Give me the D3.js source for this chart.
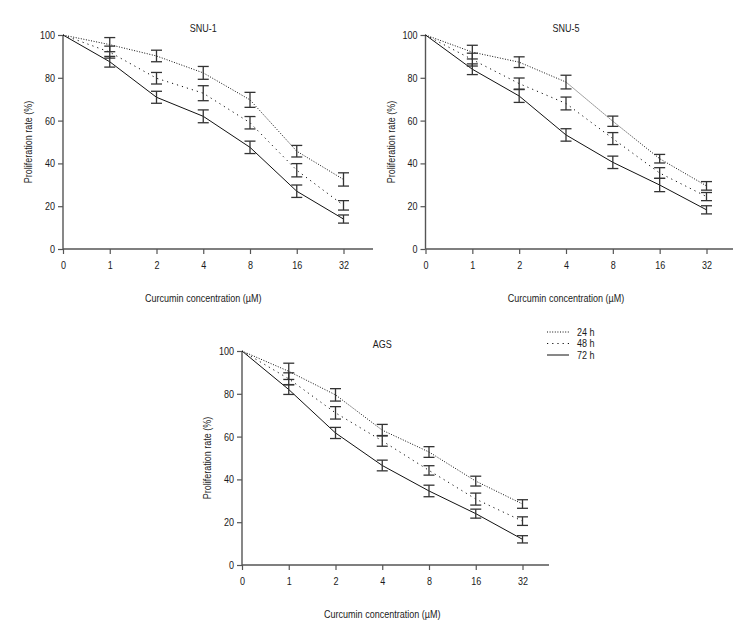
<!DOCTYPE html>
<html>
<head>
<meta charset="utf-8">
<script src="https://cdn.jsdelivr.net/npm/d3@7"></script>
<style>
  html, body { margin: 0; padding: 0; background: #fff; }
  text { font-family: "Liberation Sans", Arial, sans-serif; fill: #1a1a1a; }
</style>
</head>
<body>
<svg id="chart" width="756" height="636"></svg>
<script>
// ---------- data ----------
const concentrations = ["0", "1", "2", "4", "8", "16", "32"];
const seriesNames = ["24 h", "48 h", "72 h"];
const yTicks = [0, 20, 40, 60, 80, 100];

const snu1_24 = [100, 95.5, 90.2, 82.3, 69.7, 45.7, 32.5];
const snu1_24_err = [0, 3.3, 2.7, 3.0, 3.5, 2.7, 3.1];
const snu1_48 = [100, 92.0, 79.8, 72.8, 59.0, 36.8, 20.4];
const snu1_48_err = [0, 2.8, 2.7, 3.5, 2.9, 3.1, 2.2];
const snu1_72 = [100, 87.5, 70.9, 62.0, 47.5, 27.0, 14.0];
const snu1_72_err = [0, 2.5, 2.8, 3.0, 2.9, 2.9, 1.9];

const snu5_24 = [100, 92.0, 87.3, 78.0, 59.7, 42.2, 29.5];
const snu5_24_err = [0, 3.2, 2.5, 3.2, 2.4, 2.0, 2.0];
const snu5_48 = [100, 88.5, 77.3, 68.0, 51.6, 35.5, 24.5];
const snu5_48_err = [0, 3.0, 2.6, 3.0, 2.8, 2.5, 1.9];
const snu5_72 = [100, 84.0, 71.5, 53.3, 40.5, 29.9, 18.3];
const snu5_72_err = [0, 2.5, 3.0, 2.9, 2.9, 3.1, 1.9];

const ags_24 = [100, 90.5, 79.5, 63.0, 52.8, 39.2, 28.5];
const ags_24_err = [0, 3.8, 2.9, 2.7, 2.5, 2.3, 2.0];
const ags_48 = [100, 87.0, 71.1, 58.0, 44.2, 30.8, 20.5];
const ags_48_err = [0, 2.8, 2.9, 2.5, 2.2, 2.8, 2.0];
const ags_72 = [100, 82.0, 61.7, 46.5, 34.6, 24.0, 12.0];
const ags_72_err = [0, 2.3, 2.6, 2.5, 2.7, 2.1, 1.7];

// ---------- styles ----------
const dashes = ["1,1.6", "1.2,4", null];
const FS = 11;          // font size
const SX = 0.82;        // horizontal condensing (narrow face)
const svg = d3.select("#chart");

function label(parent, x, y, str, anchor, rot) {
  return parent.append("text")
    .attr("transform", `translate(${x},${y})${rot ? " rotate(" + rot + ")" : ""} scale(${SX},1)`)
    .attr("text-anchor", anchor || "middle")
    .attr("font-size", FS)
    .text(str);
}

const panels = [
  { title: "SNU-1", x0: 63, x6: 343.5, xEnd: 373, yTop: 35, yBot: 249,
    series: [[snu1_24, snu1_24_err], [snu1_48, snu1_48_err], [snu1_72, snu1_72_err]] },
  { title: "SNU-5", x0: 425.5, x6: 706.5, xEnd: 733, yTop: 35, yBot: 249,
    series: [[snu5_24, snu5_24_err], [snu5_48, snu5_48_err], [snu5_72, snu5_72_err]] },
  { title: "AGS", x0: 242, x6: 522.5, xEnd: 549, yTop: 351, yBot: 565,
    series: [[ags_24, ags_24_err], [ags_48, ags_48_err], [ags_72, ags_72_err]] }
];

panels.forEach(p => {
  const xIdx = d3.scaleLinear().domain([0, 6]).range([p.x0, p.x6]);
  const y = d3.scaleLinear().domain([0, 100]).range([p.yBot, p.yTop]);
  const g = svg.append("g");

  // axes
  const yAxis = d3.axisLeft(y).tickValues(yTicks).tickSize(5).tickPadding(3).tickSizeOuter(0);
  const ya = g.append("g").attr("transform", `translate(${p.x0},0)`).call(yAxis);
  const xScaleAxis = d3.scalePoint().domain(concentrations).range([p.x0, p.x6]);
  const xAxis = d3.axisBottom(xScaleAxis).tickSize(5).tickPadding(7.5).tickSizeOuter(0);
  const xa = g.append("g").attr("transform", `translate(0,${p.yBot})`).call(xAxis);
  xa.select(".domain").attr("d", `M${p.x0},0H${p.xEnd}`);
  ya.select(".domain").attr("d", `M0,${p.yBot}V${p.yTop}`);
  [ya, xa].forEach(a => {
    a.selectAll(".domain").attr("stroke", "#555").attr("stroke-width", 1.4);
    a.selectAll(".tick line").attr("stroke", "#555").attr("stroke-width", 1.2);
    a.selectAll(".tick text").attr("font-size", FS).attr("font-family", null).style("fill", "#1a1a1a");
  });
  ya.selectAll(".tick text").each(function () {
    const t = d3.select(this);
    const xx = +t.attr("x");
    t.attr("x", 0).attr("transform", `translate(${xx},0) scale(${SX},1)`);
  });
  xa.selectAll(".tick text").each(function () {
    const t = d3.select(this);
    const yy = +t.attr("y");
    t.attr("y", 0).attr("transform", `translate(0,${yy}) scale(${SX},1)`);
  });

  // titles
  label(g, xIdx(3), p.yTop - 3, p.title);
  label(g, (p.x0 + p.x6) / 2, p.yBot + 53, "Curcumin concentration (\u00b5M)");
  label(g, p.x0 - 31, (p.yTop + p.yBot) / 2, "Proliferation rate (%)", "middle", -90);

  // lines
  const line = d3.line().x((d, i) => xIdx(i)).y(d => y(d));
  p.series.forEach(([vals], si) => {
    g.append("path").datum(vals).attr("d", line)
      .attr("fill", "none").attr("stroke", "#111").attr("stroke-width", 1)
      .attr("stroke-dasharray", dashes[si]);
  });
  // error bars
  const cap = 5.5;
  p.series.forEach(([vals, errs]) => {
    vals.forEach((v, i) => {
      const e = errs[i];
      if (!e) return;
      const cx = xIdx(i);
      const eb = g.append("g").attr("stroke", "#333").attr("stroke-width", 1.3).attr("fill", "none");
      eb.append("line").attr("x1", cx).attr("x2", cx).attr("y1", y(v + e)).attr("y2", y(v - e));
      eb.append("line").attr("x1", cx - cap).attr("x2", cx + cap).attr("y1", y(v + e)).attr("y2", y(v + e));
      eb.append("line").attr("x1", cx - cap).attr("x2", cx + cap).attr("y1", y(v - e)).attr("y2", y(v - e));
    });
  });
});

// legend
const lg = svg.append("g");
seriesNames.forEach((s, i) => {
  const yy = 332 + i * 11.5;
  lg.append("line").attr("x1", 547).attr("x2", 569).attr("y1", yy).attr("y2", yy)
    .attr("stroke", "#111").attr("stroke-width", 1).attr("stroke-dasharray", dashes[i]);
  label(lg, 577, yy + 3.8, s, "start");
});
</script>
</body>
</html>
